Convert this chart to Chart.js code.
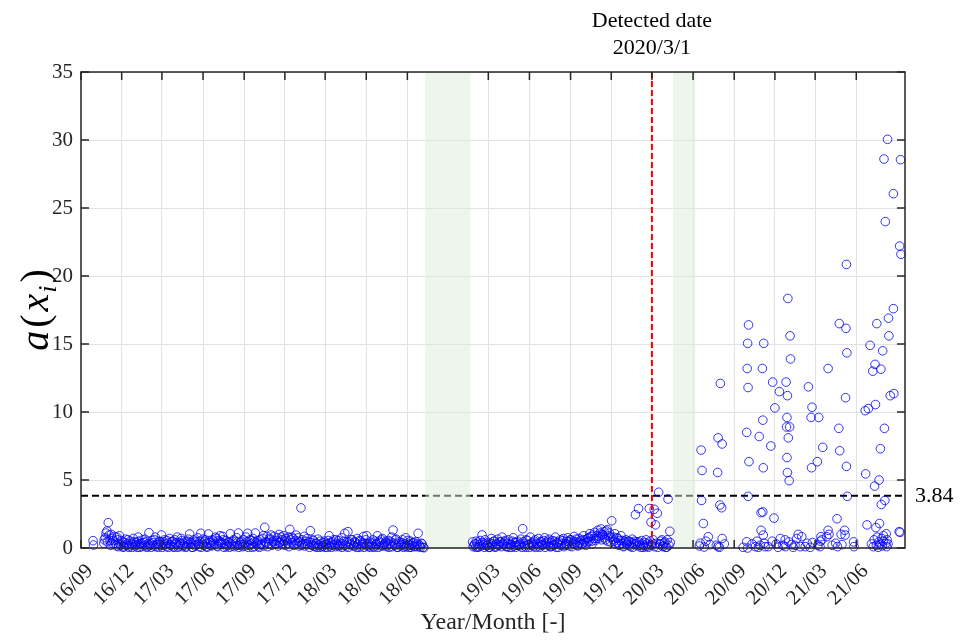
<!DOCTYPE html>
<html>
<head>
<meta charset="utf-8">
<script src="https://cdn.jsdelivr.net/npm/chart.js@4.4.1/dist/chart.umd.min.js"></script>
<style>
  html, body { margin: 0; background: #fff; }
</style>
</head>
<body>
<canvas id="chart" width="960" height="640"></canvas>
<script>
// x values are days counted from 2016/09/01
const tickDays = [0, 91, 181, 273, 365, 456, 546, 638, 730, 911, 1003, 1095, 1186, 1277, 1369, 1461, 1552, 1642, 1734];
const tickLabels = ["16/09", "16/12", "17/03", "17/06", "17/09", "17/12", "18/03", "18/06", "18/09",
                    "19/03", "19/06", "19/09", "19/12", "20/03", "20/06", "20/09", "20/12", "21/03", "21/06"];
const yTicks = [0, 5, 10, 15, 20, 25, 30, 35];
const gapStart = [770, 1324];
const gapEnd = [871, 1374];
const detectedDay = 1277;
const threshold = 3.84;

const p1Days = [27, 28,
  51, 54, 58, 61, 65, 68, 72, 75, 79, 82,
  86, 89, 93, 96, 100, 103, 107, 110, 114, 117,
  121, 124, 128, 131, 135, 138, 142, 145, 149, 152,
  156, 159, 163, 166, 170, 173, 177, 180, 184, 187,
  191, 194, 198, 201, 205, 208, 212, 215, 219, 222,
  226, 229, 233, 236, 240, 243, 247, 250, 254, 257,
  261, 264, 268, 271, 275, 278, 282, 285, 289, 292,
  296, 299, 303, 306, 310, 313, 317, 320, 324, 327,
  331, 334, 338, 341, 345, 348, 352, 355, 359, 362,
  366, 369, 373, 376, 380, 383, 387, 390, 394, 397,
  401, 404, 408, 411, 415, 418, 422, 425, 429, 432,
  436, 439, 443, 446, 450, 453, 457, 460, 464, 467,
  471, 474, 478, 481, 485, 488, 492, 495, 499, 502,
  506, 509, 513, 516, 520, 523, 527, 530, 534, 537,
  541, 544, 548, 551, 555, 558, 562, 565, 569, 572,
  576, 579, 583, 586, 590, 593, 597, 600, 604, 607,
  611, 614, 618, 621, 625, 628, 632, 635, 639, 642,
  646, 649, 653, 656, 660, 663, 667, 670, 674, 677,
  681, 684, 688, 691, 695, 698, 702, 705, 709, 712,
  716, 719, 723, 726, 730, 733, 737, 740, 744, 747,
  751, 754, 758, 761, 765];
const p1Values = [0.54, 0.22,
  0.35, 0.75, 1.25, 1.86, 0.55, 1.0, 0.3, 0.85, 0.15, 0.6,
  0.9, 0.2, 0.45, 0.1, 0.65, 0.3, 0.05, 0.5, 0.25, 0.7,
  0.15, 0.4, 0.8, 0.05, 0.35, 0.6, 0.2, 0.45, 0.1, 1.12,
  0.3, 0.55, 0.15, 0.8, 0.25, 0.05, 0.45, 0.96, 0.2, 0.6,
  0.1, 0.35, 0.7, 0.2, 0.5, 0.05, 0.4, 0.8, 0.15, 0.3,
  0.55, 0.2, 0.45, 0.1, 0.65, 1.03, 0.3, 0.05, 0.5, 0.25,
  0.75, 0.1, 1.08, 0.35, 0.2, 0.6, 0.05, 1.03, 0.4, 0.15,
  0.5, 0.25, 0.7, 0.1, 0.45, 0.3, 0.85, 0.05, 0.55, 0.2,
  0.4, 1.05, 0.15, 0.6, 0.3, 0.75, 1.1, 0.2, 0.5, 0.1,
  0.35, 0.8, 1.08, 0.2, 0.55, 0.05, 0.45, 1.1, 0.3, 0.15,
  0.6, 0.25, 0.9, 1.52, 0.4, 0.1, 0.7, 0.95, 0.5, 0.85,
  0.3, 0.75, 1.0, 0.45, 0.6, 0.9, 0.2, 0.55, 0.8, 1.37,
  0.4, 0.7, 0.25, 0.95, 0.5, 0.15, 2.95, 0.6, 0.85, 0.3,
  0.7, 0.45, 1.27, 0.2, 0.55, 0.1, 0.35, 0.65, 0.05, 0.3,
  0.15, 0.5, 0.25, 0.05, 0.9, 0.4, 0.2, 0.6, 0.1, 0.35,
  0.55, 0.2, 0.75, 0.3, 1.08, 0.1, 1.2, 0.45, 0.25, 0.6,
  0.15, 0.4, 0.7, 0.05, 0.5, 0.25, 0.85, 0.35, 0.9, 0.1,
  0.45, 0.2, 0.6, 0.05, 0.3, 0.9, 0.5, 0.15, 0.7, 0.25,
  0.4, 0.1, 0.55, 0.3, 0.8, 1.32, 0.2, 0.65, 0.05, 0.45,
  0.25, 0.6, 0.15, 0.75, 0.35, 0.05, 0.5, 0.2, 0.4, 0.1,
  0.3, 1.08, 0.15, 0.35, 0.05];

// in-between days of the same period
const p1bDays = [
  52, 56, 59, 63, 66, 70, 73, 77, 80, 84,
  87, 91, 94, 98, 101, 105, 108, 112, 115, 119,
  122, 126, 129, 133, 136, 140, 143, 147, 150, 154,
  157, 161, 164, 168, 171, 175, 178, 182, 185, 189,
  192, 196, 199, 203, 206, 210, 213, 217, 220, 224,
  227, 231, 234, 238, 241, 245, 248, 252, 255, 259,
  262, 266, 269, 273, 276, 280, 283, 287, 290, 294,
  297, 301, 304, 308, 311, 315, 318, 322, 325, 329,
  332, 336, 339, 343, 346, 350, 353, 357, 360, 364,
  367, 371, 374, 378, 381, 385, 388, 392, 395, 399,
  402, 406, 409, 413, 416, 420, 423, 427, 430, 434,
  437, 441, 444, 448, 451, 455, 458, 462, 465, 469,
  472, 476, 479, 483, 486, 490, 493, 497, 500, 504,
  507, 511, 514, 518, 521, 525, 528, 532, 535, 539,
  542, 546, 549, 553, 556, 560, 563, 567, 570, 574,
  577, 581, 584, 588, 591, 595, 598, 602, 605, 609,
  612, 616, 619, 623, 626, 630, 633, 637, 640, 644,
  647, 651, 654, 658, 661, 665, 668, 672, 675, 679,
  682, 686, 689, 693, 696, 700, 703, 707, 710, 714,
  717, 721, 724, 728, 731, 735, 738, 742, 745, 749,
  752, 756, 759, 763, 767];
const p1bValues = [
  0.6, 1.1, 0.45, 0.95, 0.2, 0.7, 0.55, 0.35, 0.8, 0.1,
  0.3, 0.55, 0.05, 0.4, 0.2, 0.6, 0.15, 0.35, 0.05, 0.45,
  0.25, 0.05, 0.5, 0.3, 0.1, 0.4, 0.65, 0.05, 0.3, 0.2,
  0.05, 0.4, 0.6, 0.1, 0.35, 0.5, 0.2, 0.05, 0.45, 0.3,
  0.55, 0.05, 0.25, 0.45, 0.1, 0.6, 0.3, 0.05, 0.4, 0.7,
  0.1, 0.35, 0.05, 0.5, 0.25, 0.4, 0.05, 0.6, 0.15, 0.45,
  0.3, 0.5, 0.05, 0.65, 0.45, 0.1, 0.35, 0.55, 0.2, 0.6,
  0.35, 0.8, 0.15, 0.55, 0.9, 0.4, 0.6, 0.3, 0.1, 0.45,
  0.05, 0.3, 0.5, 0.1, 0.45, 0.2, 0.05, 0.4, 0.25, 0.6,
  0.15, 0.45, 0.05, 0.6, 0.3, 0.7, 0.1, 0.4, 0.55, 0.05,
  0.3, 0.7, 0.15, 0.45, 0.85, 0.3, 0.6, 0.2, 0.45, 0.3,
  0.55, 0.15, 0.4, 0.8, 0.25, 0.5, 0.7, 0.35, 0.1, 0.6,
  0.8, 0.2, 0.55, 0.35, 0.75, 0.45, 0.2, 0.35, 0.15, 0.5,
  0.25, 0.05, 0.4, 0.6, 0.15, 0.35, 0.05, 0.2, 0.5, 0.1,
  0.4, 0.05, 0.3, 0.55, 0.15, 0.05, 0.45, 0.25, 0.6, 0.2,
  0.1, 0.35, 0.05, 0.5, 0.2, 0.45, 0.05, 0.3, 0.6, 0.15,
  0.45, 0.05, 0.25, 0.55, 0.1, 0.4, 0.05, 0.6, 0.2, 0.3,
  0.05, 0.35, 0.1, 0.5, 0.25, 0.05, 0.4, 0.6, 0.15, 0.3,
  0.5, 0.2, 0.05, 0.45, 0.1, 0.35, 0.6, 0.05, 0.3, 0.15,
  0.4, 0.05, 0.3, 0.1, 0.55, 0.2, 0.05, 0.35, 0.15, 0.45,
  0.1, 0.25, 0.05, 0.3, 0.02];

const p2Days = [
  876, 879, 883, 886, 890, 893, 897, 900, 904, 907,
  911, 914, 918, 921, 925, 928, 932, 935, 939, 942,
  946, 949, 953, 956, 960, 963, 967, 970, 974, 977,
  981, 984, 988, 991, 995, 998, 1002, 1005, 1009, 1012,
  1016, 1019, 1023, 1026, 1030, 1033, 1037, 1040, 1044, 1047,
  1051, 1054, 1058, 1061, 1065, 1068, 1072, 1075, 1079, 1082,
  1086, 1089, 1093, 1096, 1100, 1103, 1107, 1110, 1114, 1117,
  1121, 1124, 1128, 1131, 1135, 1138, 1142, 1145, 1149, 1152,
  1156, 1159, 1163, 1166, 1170, 1173, 1177, 1180, 1184, 1187,
  1191, 1194, 1198, 1201, 1205, 1208, 1212, 1215, 1219, 1222,
  1226, 1229, 1233, 1236, 1240, 1243, 1247, 1250, 1254, 1257,
  1261, 1264, 1268, 1271, 1275, 1278, 1282, 1285, 1289, 1292,
  1296, 1299, 1303, 1306, 1310, 1313, 1317];
const p2Values = [
  0.45, 0.2, 0.05, 0.35, 0.1, 0.55, 0.96, 0.25, 0.6, 0.15,
  0.4, 0.05, 0.7, 0.3, 0.5, 0.1, 0.65, 0.2, 0.45, 0.8,
  0.25, 0.55, 0.1, 0.6, 0.35, 0.05, 0.75, 0.4, 0.2, 0.5,
  0.15, 0.65, 1.42, 0.3, 0.05, 0.55, 0.25, 0.8, 0.4, 0.1,
  0.6, 0.35, 0.7, 0.05, 0.45, 0.2, 0.75, 0.3, 0.5, 0.65,
  0.1, 0.55, 0.25, 0.8, 0.4, 0.05, 0.6, 0.3, 0.7, 0.2,
  0.5, 0.75, 0.15, 0.6, 0.35, 0.85, 0.45, 0.2, 0.7, 0.55,
  0.3, 0.9, 0.6, 0.4, 0.75, 1.05, 0.5, 0.95, 1.15, 0.7,
  1.3, 0.85, 1.4, 1.0, 1.2, 0.6, 1.35, 0.9, 0.45, 2.0,
  0.8, 1.05, 0.4, 0.7, 0.25, 0.9, 0.55, 0.15, 0.6, 0.35,
  0.5, 0.1, 0.65, 0.3, 2.45, 0.45, 2.9, 0.2, 0.55, 0.05,
  0.4, 0.6, 0.15, 2.9, 1.9, 0.35, 2.85, 1.7, 2.55, 4.1,
  0.3, 0.6, 0.15, 0.45, 0.05, 3.6, 1.23];

const p2bDays = [
  877, 881, 884, 888, 891, 895, 898, 902, 905, 909,
  912, 916, 919, 923, 926, 930, 933, 937, 940, 944,
  947, 951, 954, 958, 961, 965, 968, 972, 975, 979,
  982, 986, 989, 993, 996, 1000, 1003, 1007, 1010, 1014,
  1017, 1021, 1024, 1028, 1031, 1035, 1038, 1042, 1045, 1049,
  1052, 1056, 1059, 1063, 1066, 1070, 1073, 1077, 1080, 1084,
  1087, 1091, 1094, 1098, 1101, 1105, 1108, 1112, 1115, 1119,
  1122, 1126, 1129, 1133, 1136, 1140, 1143, 1147, 1150, 1154,
  1157, 1161, 1164, 1168, 1171, 1175, 1178, 1182, 1185, 1189,
  1192, 1196, 1199, 1203, 1206, 1210, 1213, 1217, 1220, 1224,
  1227, 1231, 1234, 1238, 1241, 1245, 1248, 1252, 1255, 1259,
  1262, 1266, 1269, 1273, 1276, 1280, 1283, 1287, 1290, 1294,
  1297, 1301, 1304, 1308, 1311, 1315, 1318];
const p2bValues = [
  0.1, 0.3, 0.5, 0.05, 0.25, 0.15, 0.4, 0.05, 0.3, 0.2,
  0.05, 0.35, 0.15, 0.5, 0.05, 0.3, 0.2, 0.45, 0.1, 0.3,
  0.45, 0.1, 0.35, 0.05, 0.25, 0.5, 0.15, 0.05, 0.4, 0.2,
  0.3, 0.05, 0.45, 0.15, 0.6, 0.25, 0.05, 0.35, 0.2, 0.5,
  0.05, 0.3, 0.15, 0.45, 0.25, 0.55, 0.05, 0.4, 0.2, 0.1,
  0.4, 0.15, 0.5, 0.05, 0.3, 0.45, 0.2, 0.55, 0.1, 0.35,
  0.25, 0.45, 0.6, 0.1, 0.5, 0.3, 0.65, 0.15, 0.4, 0.25,
  0.6, 0.45, 0.2, 0.7, 0.5, 0.85, 0.3, 0.7, 0.55, 0.9,
  0.7, 1.1, 0.6, 0.95, 0.75, 1.25, 0.5, 1.1, 0.8, 0.65,
  0.5, 0.3, 0.75, 0.2, 0.55, 0.35, 0.1, 0.45, 0.25, 0.5,
  0.2, 0.4, 0.05, 0.5, 0.3, 0.15, 0.45, 0.05, 0.3, 0.2,
  0.1, 0.3, 0.05, 0.5, 0.2, 0.6, 0.1, 0.35, 0.05, 0.3,
  0.5, 0.1, 0.35, 0.05, 0.6, 0.2, 0.4];

const p3Days = [
  1383, 1385, 1387, 1388, 1389, 1392, 1394, 1398, 1403, 1407,
  1421, 1424, 1425, 1425, 1428, 1429, 1430, 1433, 1434, 1434, 1439,
  1481, 1489, 1489, 1490, 1491, 1491, 1492, 1492, 1493, 1494,
  1501, 1508,
  1512, 1515, 1517, 1519, 1521, 1521, 1524, 1525, 1525, 1526, 1526, 1527, 1528, 1530,
  1537, 1543, 1546, 1547, 1550, 1552, 1555, 1559, 1562, 1564,
  1570, 1575, 1575, 1577, 1578, 1579, 1579, 1580, 1580, 1581, 1582, 1583, 1584, 1585, 1586, 1587, 1589, 1593, 1597, 1601, 1604,
  1609, 1612, 1620, 1624, 1627, 1631, 1633, 1634, 1635, 1636,
  1647, 1648, 1650, 1653, 1654, 1655, 1657, 1659, 1668, 1671, 1671, 1673,
  1680, 1688, 1691, 1692, 1695, 1696, 1697, 1700, 1702, 1708, 1709, 1710, 1711, 1712, 1712, 1713, 1714, 1728, 1729,
  1754, 1755, 1758, 1761, 1765, 1768, 1771, 1772, 1774, 1775, 1776, 1777, 1778, 1779, 1780,
  1781, 1783, 1784, 1785, 1786, 1787, 1788, 1789, 1790, 1791, 1792, 1793, 1794, 1795, 1796,
  1797, 1798, 1799, 1800, 1801, 1802, 1803, 1804, 1805, 1806, 1807, 1810, 1817, 1817, 1818,
  1830, 1831, 1832, 1833, 1834];
const p3Values = [
  0.15, 0.35, 7.2, 3.5, 5.7, 1.8, 0.07, 0.5, 0.83, 0.25,
  0.2, 5.55, 8.1, 0.1, 0.05, 3.16, 12.1, 2.96, 7.65, 0.7, 0.3,
  0.05, 8.5, 0.46, 13.2, 15.05, 0.0, 11.8, 3.8, 16.4, 6.35,
  0.3, 0.1,
  0.5, 0.05, 8.2, 0.2, 2.6, 1.3, 13.2, 9.4, 2.65, 5.9, 0.95, 15.05, 0.35, 0.1,
  0.1, 7.5, 0.5, 12.2, 2.2, 10.3, 0.3, 0.05, 11.5, 0.7,
  0.2, 0.1, 0.6, 12.2, 8.9, 9.6, 6.65, 11.2, 5.55, 18.35, 8.1, 0.45, 4.95, 8.9, 15.6, 13.9, 0.25, 0.05, 0.2, 0.7, 1.0,
  0.1, 0.83, 0.1, 0.35, 11.85, 0.05, 9.6, 5.9, 10.35, 0.4,
  6.35, 0.2, 9.6, 0.1, 0.5, 0.83, 0.6, 7.4, 0.83, 13.2, 1.3, 1.0,
  0.2, 0.35, 2.15, 0.1, 8.8, 16.5, 7.15, 1.0, 0.25, 1.3, 0.95, 11.05, 16.15, 20.85, 6.0, 14.35, 3.8, 0.45, 0.1,
  10.1, 5.45, 1.7, 10.25, 14.9, 0.3, 13.0, 0.1, 0.6, 4.55, 13.5, 10.55, 1.5, 0.2, 16.5,
  0.8, 0.05, 0.45, 5.0, 1.8, 0.25, 7.3, 13.15, 3.2, 0.7, 0.15, 14.5, 0.5, 0.9, 28.6,
  8.8, 3.5, 24.0, 0.35, 1.05, 0.1, 0.6, 30.05, 0.3, 16.9, 15.6, 11.2, 26.05, 17.6, 11.35,
  1.2, 22.2, 1.15, 28.55, 21.6];

const serif = "'Liberation Serif', 'Times New Roman', serif";
const ink = "#262626";

function toPoints(days, vals) {
    return days.map((d, i) => ({ x: d, y: vals[i] }));
}
const points = toPoints(p1Days, p1Values)
    .concat(toPoints(p1bDays, p1bValues))
    .concat(toPoints(p2Days, p2Values))
    .concat(toPoints(p2bDays, p2bValues))
    .concat(toPoints(p3Days, p3Values));

// shaded gaps, threshold and detection lines
const underlay = {
    id: "underlay",
    beforeDatasetsDraw(chart) {
        const { ctx, chartArea: a, scales: { x, y } } = chart;
        ctx.save();
        ctx.beginPath();
        ctx.rect(a.left, a.top, a.right - a.left, a.bottom - a.top);
        ctx.clip();

        const ty = y.getPixelForValue(threshold);
        ctx.strokeStyle = "#000";
        ctx.lineWidth = 2;
        ctx.setLineDash([7, 4]);
        ctx.beginPath();
        ctx.moveTo(a.left, ty);
        ctx.lineTo(a.right, ty);
        ctx.stroke();
        ctx.setLineDash([]);

        ctx.fillStyle = "rgba(222,236,214,0.5)";
        gapStart.forEach((s, i) => {
            const x0 = x.getPixelForValue(s);
            const x1 = x.getPixelForValue(gapEnd[i]);
            ctx.fillRect(x0, a.top, x1 - x0, a.bottom - a.top);
        });
        ctx.restore();
    },
    afterDatasetsDraw(chart) {
        const { ctx, chartArea: a, scales: { x } } = chart;
        const dx = x.getPixelForValue(detectedDay);
        ctx.save();
        ctx.strokeStyle = "#ff0000";
        ctx.lineWidth = 2;
        ctx.setLineDash([6, 3]);
        ctx.beginPath();
        ctx.moveTo(dx, a.top);
        ctx.lineTo(dx, a.bottom);
        ctx.stroke();
        ctx.restore();
    }
};

// box, inward ticks and the extra texts
const frame = {
    id: "frame",
    afterDraw(chart) {
        const { ctx, chartArea: a, scales: { x, y } } = chart;
        const len = 8;
        ctx.save();
        ctx.strokeStyle = ink;
        ctx.lineWidth = 1.5;
        ctx.strokeRect(a.left, a.top, a.right - a.left, a.bottom - a.top);
        ctx.beginPath();
        tickDays.forEach(d => {
            const px = x.getPixelForValue(d);
            ctx.moveTo(px, a.bottom); ctx.lineTo(px, a.bottom - len);
            ctx.moveTo(px, a.top); ctx.lineTo(px, a.top + len);
        });
        yTicks.forEach(v => {
            const py = y.getPixelForValue(v);
            ctx.moveTo(a.left, py); ctx.lineTo(a.left + len, py);
            ctx.moveTo(a.right, py); ctx.lineTo(a.right - len, py);
        });
        ctx.stroke();

        ctx.fillStyle = "#000";
        ctx.font = "22px " + serif;
        ctx.textAlign = "center";
        ctx.textBaseline = "middle";
        const dx = x.getPixelForValue(detectedDay);
        ctx.fillText("Detected date", dx, 21);
        ctx.fillText("2020/3/1", dx, 48);

        ctx.textAlign = "left";
        ctx.fillText("3.84", a.right + 10, y.getPixelForValue(threshold));

        // y title a(x_i)
        ctx.translate(36, (a.top + a.bottom) / 2);
        ctx.rotate(-Math.PI / 2);
        ctx.textBaseline = "alphabetic";
        const big = "40px " + serif, bigIt = "italic 40px " + serif, small = "italic 26px " + serif;
        const parts = [["a", bigIt, 0, 3], ["(", big, 0, 3], ["x", bigIt, 0, 1], ["i", small, 8, 3], [")", big, 0, 0]];
        let total = 0;
        parts.forEach(p => { ctx.font = p[1]; total += ctx.measureText(p[0]).width + p[3]; });
        let cx = -total / 2;
        parts.forEach(p => {
            ctx.font = p[1];
            ctx.fillText(p[0], cx, 12 + p[2]);
            cx += ctx.measureText(p[0]).width + p[3];
        });
        ctx.restore();
    }
};

new Chart(document.getElementById("chart"), {
    type: "scatter",
    data: {
        datasets: [{
            data: points,
            pointStyle: "circle",
            pointRadius: 4.3,
            pointBorderWidth: 1,
            borderColor: "rgba(0,0,255,0.8)",
            backgroundColor: "rgba(0,0,0,0)",
            clip: false
        }]
    },
    options: {
        responsive: false,
        animation: false,
        devicePixelRatio: 1,
        layout: { padding: { top: 72, right: 55, left: 0, bottom: 0 } },
        plugins: { legend: { display: false }, tooltip: { enabled: false } },
        scales: {
            x: {
                type: "linear",
                min: 0,
                max: 1843,
                afterBuildTicks: scale => { scale.ticks = tickDays.map(v => ({ value: v })); },
                afterFit: scale => { scale.height = 92; },
                grid: { color: "#e2e2e2", lineWidth: 1, drawTicks: false },
                border: { display: false },
                ticks: {
                    autoSkip: false,
                    minRotation: 45,
                    maxRotation: 45,
                    padding: 11,
                    labelOffset: 9,
                    color: ink,
                    font: { family: serif, size: 21 },
                    callback: (v, i) => tickLabels[i]
                },
                title: {
                    display: true,
                    text: "Year/Month [-]",
                    color: ink,
                    font: { family: serif, size: 24 },
                    padding: { top: 0, bottom: 3 }
                }
            },
            y: {
                min: 0,
                max: 35,
                afterFit: scale => { scale.width = 81; },
                grid: { color: "#e2e2e2", lineWidth: 1, drawTicks: false },
                border: { display: false },
                ticks: {
                    stepSize: 5,
                    padding: 8,
                    color: ink,
                    font: { family: serif, size: 21 }
                }
            }
        }
    },
    plugins: [underlay, frame]
});
</script>
</body>
</html>
